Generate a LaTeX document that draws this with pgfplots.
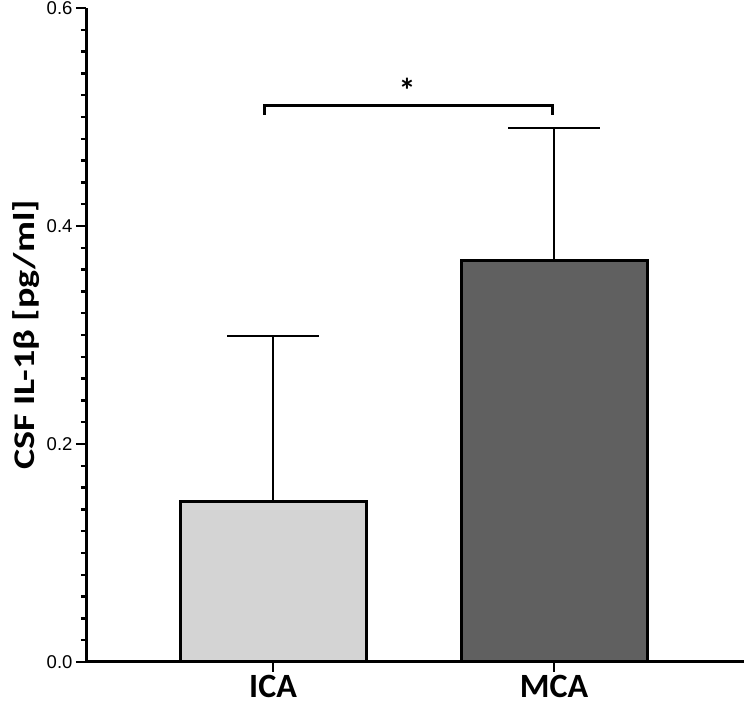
\documentclass[border=0pt]{standalone}
\usepackage{fontspec}
\setmainfont{Liberation Sans}
\newfontfamily\carlito{Carlito}
\newfontfamily\carlitowide[FakeStretch=1.27]{Carlito}
\usepackage{pgfplots}
\pgfplotsset{compat=1.18}
\definecolor{icagray}{HTML}{D4D4D4}
\definecolor{mcagray}{HTML}{606060}

\begin{document}
\begin{tikzpicture}
\useasboundingbox (0,0) rectangle (744pt,711pt);
\begin{axis}[
    at={(86pt,49pt)}, anchor=south west,
    scale only axis, width=658pt, height=654pt,
    xmin=-0.6655, xmax=1.676, ymin=0, ymax=0.6,
    axis x line*=bottom, axis y line*=left,
    axis line style={line width=3pt, -},
    xtick={0,1}, xticklabels={ICA,MCA},
    ytick={0,0.2,0.4,0.6}, minor y tick num=9,
    tick align=outside, major tick length=10pt, minor tick length=5pt,
    every tick/.style={black, line width=2.5pt},
    yticklabel style={font=\fontsize{18.5}{18.5}\selectfont,
        /pgf/number format/.cd, fixed, fixed zerofill, precision=1,
        assume math mode=true},
    xticklabel style={font=\carlito\bfseries\fontsize{34}{34}\selectfont},
    every axis y label/.style={at={(axis description cs:-0.0699,0.5)},
        rotate=90, anchor=south, inner sep=0pt,
        font=\carlitowide\bfseries\fontsize{30}{30}\selectfont},
    ylabel={CSF IL-1β [pg/ml]},
    clip=false,
]
\addplot[ybar, bar shift=0pt, bar width=186pt, fill=icagray, draw=black, line width=3pt,
    error bars/.cd, y dir=plus, y explicit,
    error bar style={line width=2pt},
    error mark options={rotate=90, mark size=46pt, line width=2pt}]
    coordinates {(0,0.147) +- (0,0.152)};
\addplot[ybar, bar shift=0pt, bar width=186pt, fill=mcagray, draw=black, line width=3pt,
    error bars/.cd, y dir=plus, y explicit,
    error bar style={line width=2pt},
    error mark options={rotate=90, mark size=46pt, line width=2pt}]
    coordinates {(1,0.368) +- (0,0.122)};
\draw[line width=3pt] (axis cs:-0.032,0.502) -- (axis cs:-0.032,0.511)
    -- (axis cs:0.993,0.511) -- (axis cs:0.993,0.502);
\node[font=\carlito\bfseries\fontsize{34}{34}\selectfont] at (axis cs:0.477,0.524) {*};
\end{axis}
\end{tikzpicture}
\end{document}
